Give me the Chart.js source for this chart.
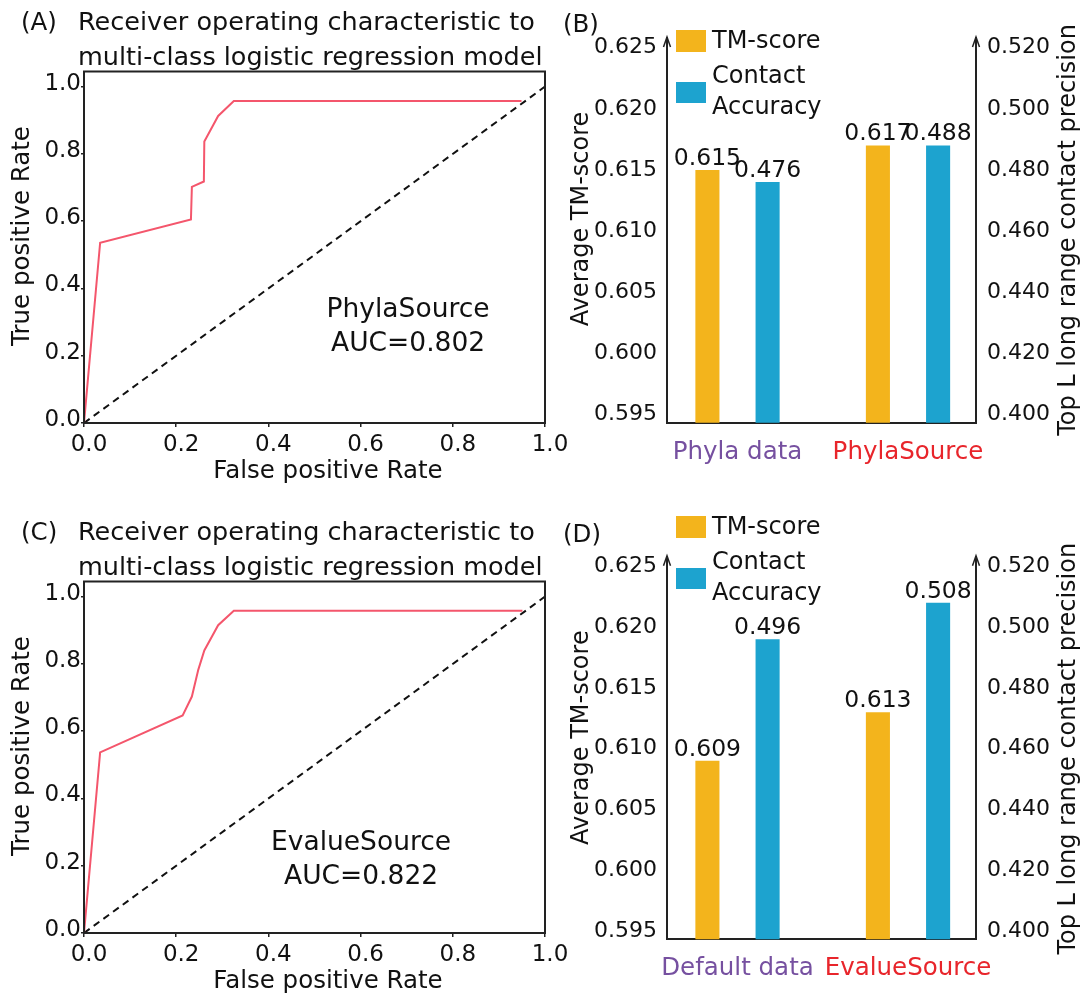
<!DOCTYPE html>
<html>
<head>
<meta charset="utf-8">
<script src="https://cdn.jsdelivr.net/npm/chart.js@4.4.0/dist/chart.umd.min.js"></script>
<style>
  html, body { margin: 0; padding: 0; background: #fff; overflow: hidden; }
  #wrap { position: relative; width: 1090px; height: 994px; }
  canvas { position: absolute; }
</style>
</head>
<body>
<div id="wrap">
  <canvas id="rocA" width="570" height="500" style="left:0px;top:0px"></canvas>
  <canvas id="barB" width="535" height="500" style="left:555px;top:0px"></canvas>
  <canvas id="rocC" width="570" height="484" style="left:0px;top:510px"></canvas>
  <canvas id="barD" width="535" height="494" style="left:555px;top:500px"></canvas>
</div>
<script>
// ROC panels (A, C)
const rocTitle = ['Receiver operating characteristic to', 'multi-class logistic regression model'];
const rocTicks = [0, 0.2, 0.4, 0.6, 0.8, 1.0];
const fprA = [0, 0.035, 0.232, 0.234, 0.260, 0.261, 0.291, 0.325, 0.949];
const tprA = [0, 0.536, 0.605, 0.702, 0.718, 0.837, 0.913, 0.957, 0.957];
const fprC = [0, 0.035, 0.214, 0.234, 0.248, 0.261, 0.291, 0.325, 0.951];
const tprC = [0, 0.537, 0.647, 0.703, 0.783, 0.840, 0.915, 0.958, 0.958];
const diagFpr = [0, 1];
const diagTpr = [0, 1];
const aucA = 0.802;
const aucC = 0.822;

// bar panels (B, D)
const seriesNames = ['TM-score', 'Contact Accuracy'];
const catsB = ['Phyla data', 'PhylaSource'];
const tmB = [0.615, 0.617];
const contactB = [0.476, 0.488];
const catsD = ['Default data', 'EvalueSource'];
const tmD = [0.609, 0.613];
const contactD = [0.496, 0.508];
const tmTicks = [0.595, 0.600, 0.605, 0.610, 0.615, 0.620, 0.625];
const contactTicks = [0.400, 0.420, 0.440, 0.460, 0.480, 0.500, 0.520];

const FONT = '"DejaVu Sans", sans-serif';
const INK = '#111';
const barColors = ['#f3b41c', '#1da3cf'];
const catColors = ['#7650a0', '#e8252b'];

Chart.defaults.font.family = FONT;
Chart.defaults.color = INK;

function text(ctx, s, x, y, size, opts = {}) {
  ctx.save();
  ctx.font = size + 'px ' + FONT;
  ctx.fillStyle = opts.color || INK;
  ctx.textAlign = opts.align || 'left';
  ctx.textBaseline = opts.baseline || 'alphabetic';
  ctx.translate(x, y);
  if (opts.rot) ctx.rotate(opts.rot);
  ctx.fillText(s, 0, 0);
  ctx.restore();
}

function rocChart(id, letter, fpr, tpr, name, auc, g) {
  const xy = (xs, ys) => xs.map((x, i) => ({ x, y: ys[i] }));
  const decor = {
    id: 'rocDecor',
    afterDraw(chart) {
      const { ctx, chartArea: a, scales } = chart;
      ctx.save();
      ctx.strokeStyle = '#222';
      ctx.lineWidth = 2;
      ctx.strokeRect(a.left, a.top, a.right - a.left, a.bottom - a.top);
      ctx.restore();
      text(ctx, letter, 21, 30, 24.5);
      text(ctx, rocTitle[0], 78, 30, 25.5);
      text(ctx, rocTitle[1], 78, 65, 25.5);
      text(ctx, 'False positive Rate', 328, a.bottom + 55, 24.5, { align: 'center' });
      text(ctx, 'True positive Rate', 23, 236, 24.5, { align: 'center', baseline: 'middle', rot: -Math.PI / 2 });
      const px = scales.x.getPixelForValue(g.noteX);
      const py = scales.y.getPixelForValue(g.noteY);
      text(ctx, name, px, py, 26.5, { align: 'center' });
      text(ctx, 'AUC=' + auc.toFixed(3), px, py + 34, 26.5, { align: 'center' });
    }
  };
  return new Chart(document.getElementById(id), {
    type: 'scatter',
    data: {
      datasets: [
        { data: xy(fpr, tpr), showLine: true, borderColor: '#f4566c', borderWidth: 2, pointRadius: 0 },
        { data: xy(diagFpr, diagTpr), showLine: true, borderColor: INK, borderWidth: 2, borderDash: [7, 5], pointRadius: 0 }
      ]
    },
    options: {
      responsive: false,
      animation: false,
      devicePixelRatio: 1,
      layout: { padding: { top: g.top, right: 25, left: 0, bottom: 0 } },
      plugins: { legend: { display: false }, tooltip: { enabled: false } },
      scales: {
        x: {
          type: 'linear', min: 0, max: 1,
          afterBuildTicks: s => { s.ticks = rocTicks.map(v => ({ value: v })); },
          afterFit: s => { s.height = g.h - g.bottom; },
          ticks: { font: { size: 23 }, padding: 4, labelOffset: 5, maxRotation: 0, autoSkip: false, callback: v => v.toFixed(1) },
          grid: { drawOnChartArea: false, drawTicks: true, tickLength: 4, color: '#222', lineWidth: 1.5 },
          border: { display: false }
        },
        y: {
          type: 'linear', min: 0, max: 1.045,
          afterBuildTicks: s => { s.ticks = rocTicks.map(v => ({ value: v })); },
          afterFit: s => { s.width = 84; },
          ticks: { font: { size: 23 }, padding: 0, labelOffset: -3, autoSkip: false, callback: v => v.toFixed(1) },
          grid: { drawOnChartArea: false, drawTicks: true, tickLength: 3, color: '#222', lineWidth: 1.5 },
          border: { display: false }
        }
      }
    },
    plugins: [decor]
  });
}

function barChart(id, letter, cats, tm, contact, g) {
  const pts = vals => vals.map((v, i) => ({ x: i + 1, y: v }));
  const decor = {
    id: 'barDecor',
    afterDraw(chart) {
      const { ctx, chartArea: a } = chart;
      // arrow tips on both value axes
      ctx.save();
      ctx.strokeStyle = '#222';
      ctx.lineWidth = 1.5;
      [a.left, a.right].forEach(x => {
        ctx.beginPath();
        ctx.moveTo(x - 3.5, a.top + 9);
        ctx.lineTo(x, a.top - 1);
        ctx.lineTo(x + 3.5, a.top + 9);
        ctx.stroke();
      });
      ctx.restore();
      // value labels
      chart.data.datasets.forEach((ds, di) => {
        chart.getDatasetMeta(di).data.forEach((bar, i) => {
          text(ctx, ds.data[i].y.toFixed(3), bar.x, bar.y - 5, 23.5, { align: 'center' });
        });
      });
      // legend
      const L = g.legendTop;
      const boxY = [L, L + 52];
      const boxH = [22, 21];
      const lineY = [[L + 18], [L + 53, L + 84]];
      chart.data.datasets.forEach((ds, di) => {
        ctx.fillStyle = ds.backgroundColor;
        ctx.fillRect(121, boxY[di], 30, boxH[di]);
        ds.label.split(' ').forEach((w, k) => text(ctx, w, 157, lineY[di][k], 24));
      });
      text(ctx, letter, 8, g.letterY, 24.5);
      text(ctx, 'Average TM-score', 27, a.top + 181, 24, { align: 'center', baseline: 'middle', rot: -Math.PI / 2 });
      text(ctx, 'Top L long range contact precision', 514, a.top + 192, 24, { align: 'center', baseline: 'middle', rot: -Math.PI / 2 });
    }
  };
  const axisBorder = { color: '#222', width: 2 };
  return new Chart(document.getElementById(id), {
    type: 'bar',
    data: {
      datasets: [
        { label: seriesNames[0], data: pts(tm), backgroundColor: barColors[0], yAxisID: 'y', barPercentage: 0.4, categoryPercentage: 0.706 },
        { label: seriesNames[1], data: pts(contact), backgroundColor: barColors[1], yAxisID: 'y1', barPercentage: 0.4, categoryPercentage: 0.706 }
      ]
    },
    options: {
      responsive: false,
      animation: false,
      devicePixelRatio: 1,
      layout: { padding: { top: g.top, right: 0, left: 0, bottom: 0 } },
      plugins: { legend: { display: false }, tooltip: { enabled: false } },
      scales: {
        x: {
          type: 'linear', offset: false, min: 0.5865, max: 2.3988,
          afterBuildTicks: s => { s.ticks = cats.map((c, i) => ({ value: i + 1 })); },
          afterFit: s => { s.height = g.h - g.bottom; },
          ticks: { font: { size: 24.5 }, padding: 7, maxRotation: 0, autoSkip: false,
                   callback: v => cats[v - 1], color: c => catColors[c.index] },
          grid: { display: false },
          border: axisBorder
        },
        y: {
          position: 'left', min: 0.5943, max: 0.6258,
          afterBuildTicks: s => { s.ticks = tmTicks.map(v => ({ value: v })); },
          afterFit: s => { s.width = 112; },
          ticks: { font: { size: 22 }, padding: 2, autoSkip: false, callback: v => v.toFixed(3) },
          grid: { display: false },
          border: axisBorder
        },
        y1: {
          position: 'right', min: 0.3972, max: 0.5232,
          afterBuildTicks: s => { s.ticks = contactTicks.map(v => ({ value: v })); },
          afterFit: s => { s.width = 114; },
          ticks: { font: { size: 22 }, padding: 3, autoSkip: false, callback: v => v.toFixed(3) },
          grid: { display: false },
          border: axisBorder
        }
      }
    },
    plugins: [decor]
  });
}

rocChart('rocA', '(A)', fprA, tprA, 'PhylaSource', aucA,
  { top: 71.5, bottom: 423, h: 500, noteX: 0.703, noteY: 0.316 });
rocChart('rocC', '(C)', fprC, tprC, 'EvalueSource', aucC,
  { top: 71.5, bottom: 423, h: 484, noteX: 0.601, noteY: 0.247 });
barChart('barB', '(B)', catsB, tmB, contactB,
  { top: 38, bottom: 422.7, h: 500, legendTop: 30, letterY: 32 });
barChart('barD', '(D)', catsD, tmD, contactD,
  { top: 56.7, bottom: 439.3, h: 494, legendTop: 16, letterY: 42 });
</script>
</body>
</html>
